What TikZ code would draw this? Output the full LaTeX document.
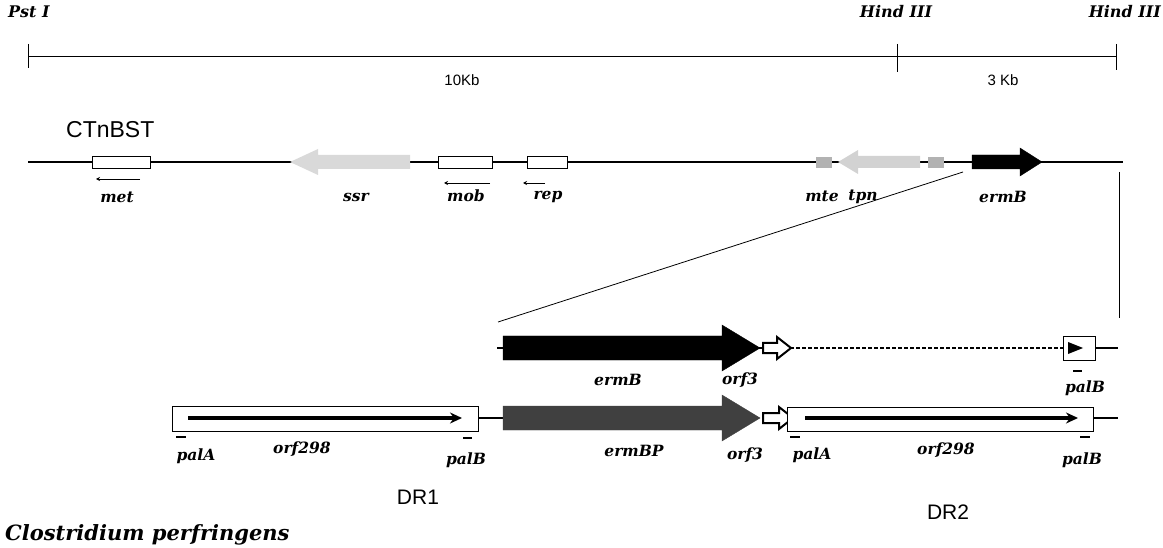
\documentclass[tikz,border=0pt]{standalone}
\usepackage{fontspec}
\setmainfont{DejaVu Serif}
\newfontfamily\sansf{Liberation Sans}
\usetikzlibrary{arrows.meta}
\newcommand\gR[7]{\filldraw[#7] (#1,#4-#5)--(#3,#4-#5)--(#3,#4-#6)--(#2,#4)--(#3,#4+#6)--(#3,#4+#5)--(#1,#4+#5)--cycle;}
\newcommand\gL[7]{\fill[#7] (#1,#4-#5)--(#3,#4-#5)--(#3,#4-#6)--(#2,#4)--(#3,#4+#6)--(#3,#4+#5)--(#1,#4+#5)--cycle;}
\tikzset{
  glab/.style={font=\fontsize{15.5}{15.5}\selectfont\bfseries\itshape, inner sep=0pt},
  rlab/.style={font=\fontsize{16}{16}\selectfont\bfseries\itshape, inner sep=0pt},
  slab/.style={font=\sansf\fontsize{15}{15}\selectfont, inner sep=0pt},
  big/.style={font=\sansf\fontsize{21}{21}\selectfont, inner sep=0pt},
  dna/.style={line width=1.3pt},
  thin/.style={line width=0.8pt},
  gbox/.style={draw=black, fill=white, line width=0.8pt},
  bar/.style={line width=1.8pt},
  sarrow/.style={line width=0.9pt, -{Stealth[length=4pt,width=4pt]}},
  inarrow/.style={line width=4pt, -{Stealth[length=12pt,width=11pt]}},
  wgene/.style={fill=white, draw=black, line width=2pt, line join=miter}
}
\begin{document}
\begin{tikzpicture}[x=1pt,y=-1pt]
\useasboundingbox (0,0) rectangle (1163,548);
% scale bar
\coordinate (s0) at (28,56);
\coordinate (s1) at (897,56);
\coordinate (s2) at (1116,56);
\draw[thin] (s0) -- (s2);
\draw[thin] (28,44) -- (28,68);
\draw[thin] (897,44) -- (897,72);
\draw[thin] (1116,44) -- (1116,70);
\node[rlab, anchor=west] (pst) at (8,12) {Pst I};
\node[rlab] (h1) at (896,12) {Hind III};
\node[rlab, anchor=east] (h2) at (1161,12) {Hind III};
\node[slab] (k10) at (462,80) {10Kb};
\node[slab] (k3) at (1003,80) {3 Kb};
% CTnBST
\node[big, font=\sansf\fontsize{23}{23}\selectfont, anchor=west] (ct) at (66,130) {CTnBST};
\coordinate (m0) at (28,162);
\coordinate (m1) at (1123,162);
\draw[dna] (m0) -- (m1);
\draw[gbox] (92,156) rectangle (150,168);
\draw[sarrow] (140,179) -- (96,179);
\gL{410}{290}{318}{162}{7}{13}{gray!30}
\draw[gbox] (438,156) rectangle (492,168);
\draw[sarrow] (490,183) -- (444,183);
\draw[gbox] (527,156) rectangle (567,168);
\draw[sarrow] (545,183) -- (523,183);
\fill[gray!60] (816,157) rectangle (832,168);
\gL{920}{838}{858}{162}{6}{12}{gray!35}
\fill[gray!60] (928,157) rectangle (944,168);
\gR{972}{1042}{1020}{162}{7}{14}{black}
\node[glab] (lmet) at (117,197) {met};
\node[glab] (lssr) at (356,197) {ssr};
\node[glab] (lmob) at (466,196) {mob};
\node[glab] (lrep) at (548,197) {rep};
\node[glab] (lmte) at (822,196) {mte};
\node[glab] (ltpn) at (863,197) {tpn};
\node[glab] (lerm) at (1003,197) {ermB};
% expansion lines
\coordinate (d0) at (963,172);
\coordinate (d1) at (498,322);
\draw[thin] (d0) -- (d1);
\coordinate (v0) at (1119,172);
\coordinate (v1) at (1119,318);
\draw[thin] (v0) -- (v1);
% row 2
\draw[dna] (497,348) -- (790,348);
\draw[dna, dash pattern=on 4pt off 2pt] (790,348) -- (1063,348);
\draw[dna] (1095,348) -- (1118,348);
\gR{503}{760}{722}{348}{12}{23}{black}
\gR{763}{791}{777}{348}{5}{11}{wgene}
\draw[gbox] (1063,336) rectangle (1095,360);
\fill (1068,342) -- (1083,348) -- (1068,354) -- cycle;
\draw[bar] (1073,371) -- (1082,371);
\node[glab] (lerm2) at (618,380) {ermB};
\node[glab] (lorf3a) at (740,380) {orf3};
\node[glab] (lpalb2) at (1085,388) {palB};
% row 3
\draw[dna] (478,418) -- (503,418);
\draw[dna] (1093,418) -- (1118,418);
\gR{503}{760}{722}{418}{12}{23}{black!75}
\gR{763}{793}{779}{418}{5}{11}{wgene}
\draw[dna] (793,418) -- (787,418);
\draw[gbox] (172,406) rectangle (478,431);
\draw[inarrow] (188,418) -- (462,418);
\draw[gbox] (787,407) rectangle (1093,431);
\draw[inarrow] (805,418) -- (1078,418);
\draw[bar] (176,437) -- (186,437);
\draw[bar] (463,438) -- (472,438);
\draw[bar] (790,437) -- (800,437);
\draw[bar] (1080,437) -- (1090,437);
\node[glab] (lpala1) at (196,456) {palA};
\node[glab] (lorf1) at (302,449) {orf298};
\node[glab] (lpalb1) at (466,460) {palB};
\node[glab] (lermbp) at (634,451) {ermBP};
\node[glab] (lorf3b) at (745,455) {orf3};
\node[glab] (lpala2) at (812,455) {palA};
\node[glab] (lorf2) at (946,450) {orf298};
\node[glab] (lpalb3) at (1082,460) {palB};
\node[big] (dr1) at (418,497) {DR1};
\node[big] (dr2) at (948,512) {DR2};
\node[glab, font=\fontsize{21}{21}\selectfont\bfseries\itshape, anchor=west] (cp) at (5,535) {Clostridium perfringens};
\end{tikzpicture}
\end{document}
